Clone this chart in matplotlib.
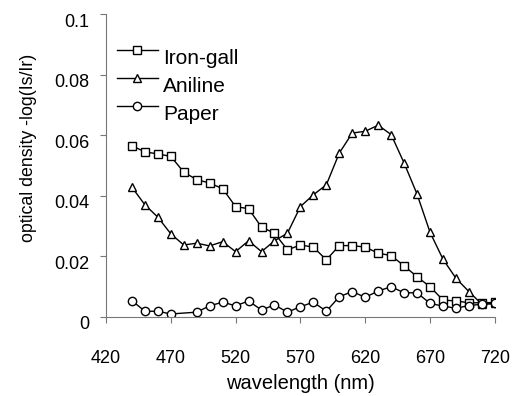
import matplotlib.pyplot as plt
import matplotlib.transforms as mtransforms

plt.rcParams['font.family'] = ['Liberation Sans', 'DejaVu Sans']

wavelength = list(range(440, 721, 10))

iron_gall = [0.0566, 0.0546, 0.0539, 0.0531, 0.0479, 0.0454, 0.0443, 0.0424, 0.0365,
             0.0358, 0.0297, 0.0277, 0.0222, 0.0238, 0.0231, 0.0189, 0.0236, 0.0236,
             0.0231, 0.0211, 0.0203, 0.0169, 0.0133, 0.0100, 0.0056, 0.0053, 0.0047,
             0.0047, 0.0048]

aniline = [0.0429, 0.0371, 0.0330, 0.0275, 0.0238, 0.0244, 0.0235, 0.0249, 0.0216,
           0.0252, 0.0216, 0.0252, 0.0277, 0.0365, 0.0404, 0.0437, 0.0542, 0.0608,
           0.0614, 0.0634, 0.0603, 0.0509, 0.0406, 0.0280, 0.0191, 0.0128, 0.0084,
           0.0042, 0.0045]

# paper has no reading at 480 nm
paper_wl = [440, 450, 460, 470] + list(range(490, 721, 10))
paper = [0.0054, 0.0019, 0.0019, 0.0010,
         0.0016, 0.0037, 0.0049, 0.0037, 0.0053, 0.0023, 0.0040, 0.0016, 0.0034,
         0.0049, 0.0019, 0.0067, 0.0084, 0.0065, 0.0086, 0.0100, 0.0080, 0.0080,
         0.0045, 0.0036, 0.0029, 0.0038, 0.0042, 0.0045]

xticks = [420, 470, 520, 570, 620, 670, 720]
yticks = [0, 0.02, 0.04, 0.06, 0.08, 0.1]
yticklabels = ['0', '0.02', '0.04', '0.06', '0.08', '0.1']

fig = plt.figure(figsize=(5.16, 3.96), dpi=100)
ax = fig.add_axes([0.2054, 0.1995, 0.7536, 0.7639])

style = dict(color='black', lw=1.0, markersize=6, markerfacecolor='white',
             markeredgecolor='black', markeredgewidth=1.0)
ax.plot(wavelength, iron_gall, marker='s', label='Iron-gall', **style)
ax.plot(wavelength, aniline, marker='^', label='Aniline', **style)
ax.plot(paper_wl, paper, marker='o', label='Paper', **style)

ax.set_xlim(420, 720)
ax.set_ylim(0, 0.1)
ax.set_xticks(xticks)
ax.set_yticks(yticks)
ax.set_yticklabels(yticklabels)

for s in ['top', 'right']:
    ax.spines[s].set_visible(False)
for s in ['left', 'bottom']:
    ax.spines[s].set_color('#777777')
    ax.spines[s].set_linewidth(0.8)

ax.tick_params(axis='both', direction='out', length=4, width=0.8, color='#777777',
               labelsize=13)
ax.tick_params(axis='x', pad=20)
ax.tick_params(axis='y', pad=8)

# labels of the y axis sit a little below their ticks in the original
offset = mtransforms.ScaledTranslation(0, -6 / 100, fig.dpi_scale_trans)
for lab in ax.get_yticklabels():
    lab.set_transform(lab.get_transform() + offset)

ax.set_xlabel('wavelength (nm)', fontsize=14.5)
ax.xaxis.set_label_coords(0.501, -0.19)
ax.set_ylabel('optical density -log(Is/Ir)', fontsize=12.8)
ax.yaxis.set_label_coords(-0.177, 0.559)

leg = ax.legend(loc='upper left', bbox_to_anchor=(0.028, 0.908), frameon=False,
                fontsize=15, handlelength=1.97, handletextpad=0.24, labelspacing=0.42,
                borderaxespad=0, borderpad=0)
toff = mtransforms.ScaledTranslation(0, -7 / 100, fig.dpi_scale_trans)
for t in leg.get_texts():
    t.set_transform(t.get_transform() + toff)

plt.savefig('out.png', dpi=100)
